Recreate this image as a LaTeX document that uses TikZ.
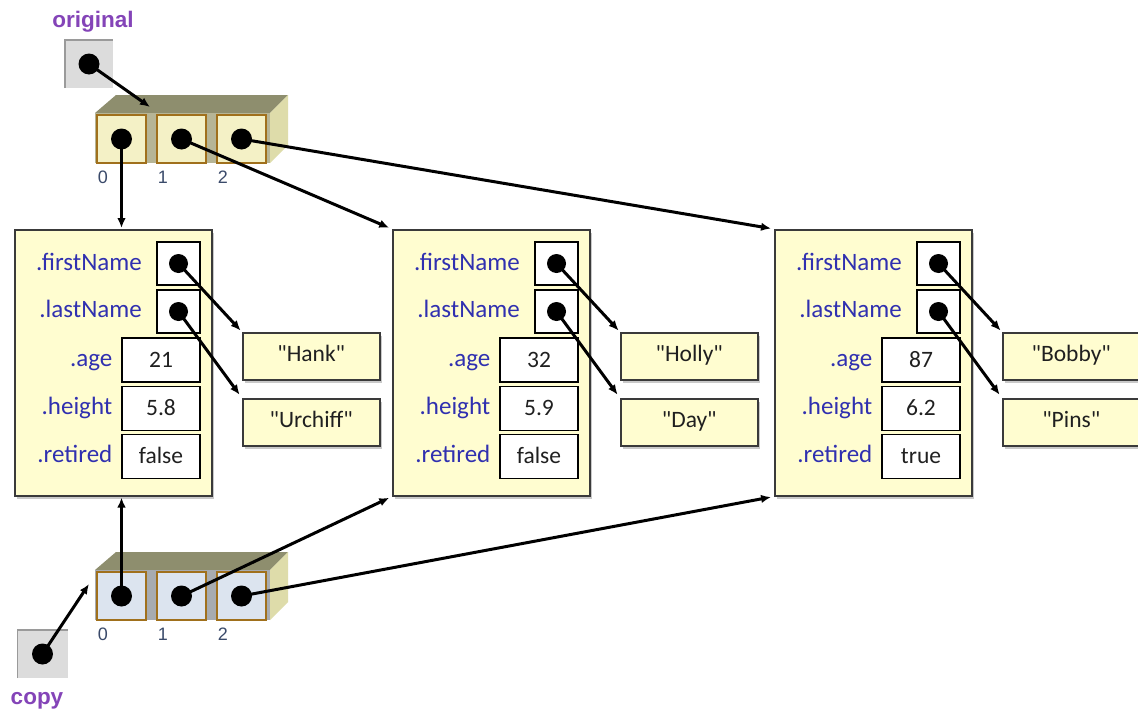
\documentclass[tikz,border=0pt]{standalone}
\usepackage{fontspec}
\setmainfont{Carlito}[Ligatures=TeXOff]
\newfontfamily\headfont{Liberation Sans}
\usetikzlibrary{arrows.meta,shadows,calc}

\definecolor{objfill}{HTML}{FFFDD0}
\definecolor{objline}{HTML}{3A3A3A}
\definecolor{fieldblue}{HTML}{3030B0}
\definecolor{varpurple}{HTML}{8444B8}
\definecolor{varfill}{HTML}{DCDCDC}
\definecolor{varedge}{HTML}{9A9A9A}
\definecolor{celledge}{HTML}{A0701C}
\definecolor{cellyellow}{HTML}{F4F1C6}
\definecolor{cellblue}{HTML}{DCE4EF}
\definecolor{boxtop}{HTML}{8E8E6E}
\definecolor{boxside}{HTML}{DEDCAA}
\definecolor{boxfrontY}{HTML}{B6B596}
\definecolor{boxfrontB}{HTML}{A7ABB0}
\definecolor{idxcol}{HTML}{3A4A6A}
\definecolor{valtext}{HTML}{202020}

% straight double quote
\newcommand{\dq}{\symbol{34}}

\tikzset{
  ref/.style={line width=3pt, -{Latex[length=10pt,width=8.5pt]}},
  refdot/.style={circle, fill=black, inner sep=0pt, minimum size=#1},
  refdot/.default=20pt,
  objshadow/.style={drop shadow={shadow xshift=2.5pt, shadow yshift=-3pt, fill=black!35, opacity=.6}},
  obj/.style={draw=objline, line width=1.5pt, fill=objfill, objshadow, inner sep=0pt},
  ptrbox/.style={draw=black, line width=1.4pt, fill=white, minimum width=43pt, minimum height=43pt, inner sep=0pt},
  valbox/.style={draw=black, line width=1.4pt, fill=white, minimum width=78pt, minimum height=44pt, inner sep=0pt,
    text height=14pt, text depth=0pt, font=\fontsize{23.5}{26}\selectfont, text=valtext},
  strbox/.style={obj, minimum width=137pt, minimum height=47pt, anchor=north west,
    text height=11pt, text depth=0pt, font=\fontsize{23.5}{26}\selectfont, text=valtext},
  flabel/.style={anchor=base east, inner sep=0pt, font=\fontsize{25}{28}\selectfont, text=fieldblue},
  cell/.style={draw=celledge, line width=1.4pt, minimum width=49pt, minimum height=48pt, inner sep=0pt},
  idx/.style={inner sep=0pt, font=\headfont\fontsize{18}{20}\selectfont, text=idxcol},
  varbox/.style={fill=varfill, minimum width=48pt, minimum height=48pt, inner sep=0pt},
  varlabel/.style={inner sep=0pt, font=\headfont\bfseries\fontsize{22.5}{25}\selectfont, text=varpurple},
}

\begin{document}
\begin{tikzpicture}[x=1pt,y=-1pt]
\fill[white] (0,0) rectangle (1138,715);
\useasboundingbox (0,0) rectangle (1138,715);

% the two three-slot arrays, drawn as boxes in perspective
\foreach \dy/\nm/\cf/\fc in {0/a/cellyellow/boxfrontY,457/b/cellblue/boxfrontB}{
  \fill[boxtop] (95,113+\dy) -- (116,95+\dy) -- (288,95+\dy) -- (270,113+\dy) -- cycle;
  \fill[boxside] (270,113+\dy) -- (288,95+\dy) -- (288,145+\dy) -- (270,163+\dy) -- cycle;
  \fill[\fc] (95,113+\dy) rectangle (270,163+\dy);
  \foreach \i in {0,1,2}{
    \node[cell, fill=\cf] (\nm\i) at (121.5+60*\i,139+\dy) {};
    \node[idx] (\nm\i n) at (103+60*\i,177+\dy) {\i};
  }
}

% the three person objects with their string objects
\foreach \ox/\pid/\va/\vb/\vc/\sa/\sb in {0/1/21/5.8/false/Hank/Urchiff,378/2/32/5.9/false/Holly/Day,760/3/87/6.2/true/Bobby/Pins}{
  \node[obj, minimum width=197pt, minimum height=266pt, anchor=north west] (p\pid) at (14+\ox,229) {};
  \node[flabel] (p\pid la) at (142+\ox,270) {.firstName};
  \node[flabel] (p\pid lb) at (142+\ox,317.5) {.lastName};
  \node[flabel] (p\pid lc) at (112.5+\ox,366.5) {.age};
  \node[flabel] (p\pid ld) at (112.5+\ox,414) {.height};
  \node[flabel] (p\pid le) at (112.5+\ox,462) {.retired};
  \node[ptrbox] (f\pid) at (178.5+\ox,263.5) {};
  \node[ptrbox] (l\pid) at (178.5+\ox,311.5) {};
  \node[valbox] (v\pid a) at (161+\ox,360) {\va};
  \node[valbox] (v\pid b) at (161+\ox,408.5) {\vb};
  \node[valbox] (v\pid c) at (161+\ox,456.5) {\vc};
  \node[strbox] (s\pid a) at (242+\ox,332) {\dq\sa\dq};
  \node[strbox] (s\pid b) at (242+\ox,398) {\dq\sb\dq};
  \draw[ref, shorten >=2pt] (f\pid.center) -- (s\pid a.north west);
  \draw[ref, shorten >=4pt] (l\pid.center) -- (s\pid b.north west);
  \node[refdot=19pt] (f\pid d) at (f\pid.center) {};
  \node[refdot=19pt] (l\pid d) at (l\pid.center) {};
}

% the two variables
\node[varlabel] (origlbl) at (93,22) {original};
\node[varbox] (orig) at (89,64) {};
\draw[varedge, line width=1.5pt] (orig.south west) -- (orig.north west) -- (orig.north east);
\node[varlabel] (copylbl) at (37,701) {copy};
\node[varbox, minimum width=50pt] (copy) at (42.5,654) {};
\draw[varedge, line width=1.5pt] (copy.south west) -- (copy.north west) -- (copy.north east);

\coordinate (origtip) at (150,107);
\coordinate (copytip) at (89,584);
\draw[ref] (orig.center) -- (origtip);
\draw[ref] (copy.center) -- (copytip);

% references held by the array slots
\draw[ref, shorten >=1pt] (a0.center) -- (a0.center |- p1.north);
\draw[ref, shorten >=3pt] (a1.center) -- (p2.north west);
\draw[ref, shorten >=3pt] (a2.center) -- (p3.north west);
\draw[ref, shorten >=1pt] (b0.center) -- (b0.center |- p1.south);
\draw[ref, shorten >=3pt] (b1.center) -- (p2.south west);
\draw[ref, shorten >=3pt] (b2.center) -- (p3.south west);

% the dots sit on top of every line that starts from them
\node[refdot=21pt] (origd) at (orig.center) {};
\node[refdot=21pt] (copyd) at (copy.center) {};
\foreach \nm in {a,b}{
  \foreach \i in {0,1,2}{
    \node[refdot=21pt] (\nm\i d) at (\nm\i.center) {};
  }
}
\end{tikzpicture}
\end{document}
